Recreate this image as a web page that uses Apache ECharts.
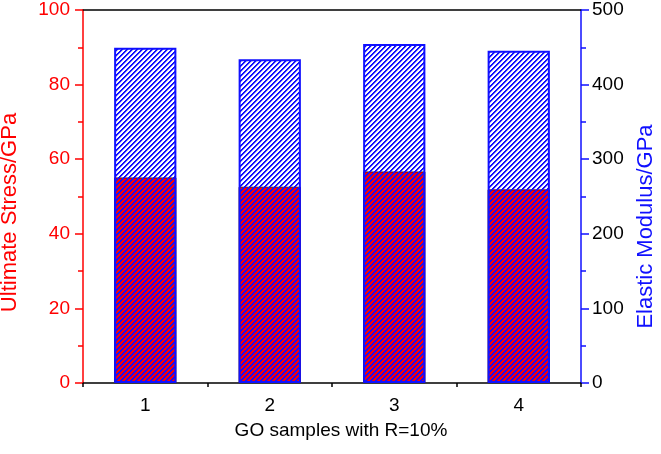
<!DOCTYPE html>
<html>
<head>
<meta charset="utf-8">
<script src="https://cdn.jsdelivr.net/npm/echarts@6/dist/echarts.min.js"></script>
<style>
html,body{margin:0;padding:0;background:#fff;}
#c{width:661px;height:454px;}
</style>
</head>
<body>
<div id="c"></div>
<script>
var categories = ['1', '2', '3', '4'];
var stressValues = [55.1, 52.6, 56.7, 51.9];
var modulusValues = [449.5, 434, 454.5, 445.5];
var stressTicks = [0, 20, 40, 60, 80, 100];
var modulusTicks = [0, 100, 200, 300, 400, 500];

var RED = '#ff0000';
var BLUE = '#1010ff';
var FONT = 'Liberation Sans, Arial, sans-serif';

function hatch(period, color, half) {
  var cv = document.createElement('canvas');
  cv.width = period; cv.height = period;
  var ctx = cv.getContext('2d');
  for (var y = 0; y < period; y++) {
    for (var x = 0; x < period; x++) {
      var m = (x + y) % period;
      if (m < 2) { ctx.fillStyle = color; ctx.fillRect(x, y, 1, 1); }
      else if (m === 2) { ctx.fillStyle = half; ctx.fillRect(x, y, 1, 1); }
    }
  }
  return cv;
}
var pat = hatch(5, BLUE, 'rgba(16,16,255,0.3)');

var chart = echarts.init(document.getElementById('c'), null, {renderer: 'canvas'});
var option = {
  animation: false,
  grid: {left: 83, right: 80, top: 10, bottom: 71, containLabel: false, outerBoundsMode: 'none'},
  xAxis: [
    {
      type: 'category', data: categories, position: 'bottom',
      name: 'GO samples with R=10%', nameLocation: 'middle', nameGap: 38,
      nameTextStyle: {color: '#000', fontSize: 19, fontFamily: FONT, padding: [0, 0, 0, 18]},
      axisLine: {lineStyle: {color: '#000', width: 1.5}},
      axisTick: {alignWithLabel: true, length: 8, lineStyle: {color: '#000', width: 1.5}},
      axisLabel: {color: '#000', fontSize: 19, fontFamily: FONT, margin: 13},
      splitLine: {show: false}
    },
    {
      type: 'category', data: categories, position: 'bottom',
      axisLine: {show: false},
      axisTick: {show: true, length: 4, lineStyle: {color: '#000', width: 1.5}},
      axisLabel: {show: false},
      splitLine: {show: false}
    },
    {
      type: 'category', data: categories, position: 'top',
      axisLine: {lineStyle: {color: '#000', width: 1.5}},
      axisTick: {alignWithLabel: true, inside: true, length: 8, lineStyle: {color: '#000', width: 1.5}},
      axisLabel: {show: false},
      splitLine: {show: false}
    }
  ],
  yAxis: [
    {
      type: 'value', position: 'left', min: stressTicks[0], max: stressTicks[stressTicks.length - 1], interval: 20,
      name: 'Ultimate Stress/GPa', nameLocation: 'middle', nameGap: 62,
      nameTextStyle: {color: RED, fontSize: 22, fontFamily: FONT, padding: [0, 32, 0, 0]},
      axisLine: {show: true, lineStyle: {color: RED, width: 1.5}},
      axisTick: {show: true, length: 8, lineStyle: {color: RED, width: 1.5}},
      minorTick: {show: true, splitNumber: 2, length: 5, lineStyle: {color: RED, width: 1.5}},
      axisLabel: {color: RED, fontSize: 19, fontFamily: FONT, margin: 13},
      splitLine: {show: false}
    },
    {
      type: 'value', position: 'right', min: modulusTicks[0], max: modulusTicks[modulusTicks.length - 1], interval: 100,
      name: 'Elastic Modulus/GPa', nameLocation: 'middle', nameGap: 53,
      nameTextStyle: {color: BLUE, fontSize: 22, fontFamily: FONT, padding: [0, 60, 0, 0]},
      axisLine: {show: true, lineStyle: {color: BLUE, width: 1.5}},
      axisTick: {show: true, length: 8, lineStyle: {color: BLUE, width: 1.5}},
      minorTick: {show: true, splitNumber: 2, length: 5, lineStyle: {color: BLUE, width: 1.5}},
      axisLabel: {color: '#000', fontSize: 19, fontFamily: FONT, margin: 11},
      splitLine: {show: false}
    }
  ],
  series: [
    {
      name: 'Ultimate Stress', type: 'bar', xAxisIndex: 0, yAxisIndex: 0,
      data: stressValues, barWidth: '50%', barGap: '-100%',
      itemStyle: {color: RED, borderColor: '#400000', borderWidth: 0.8}
    },
    {
      name: 'Elastic Modulus', type: 'bar', xAxisIndex: 0, yAxisIndex: 1,
      data: modulusValues, barWidth: '50%', barGap: '-100%',
      itemStyle: {color: {image: pat, repeat: 'repeat'}, borderColor: BLUE, borderWidth: 2}
    }
  ]
};
chart.setOption(option);
</script>
</body>
</html>
